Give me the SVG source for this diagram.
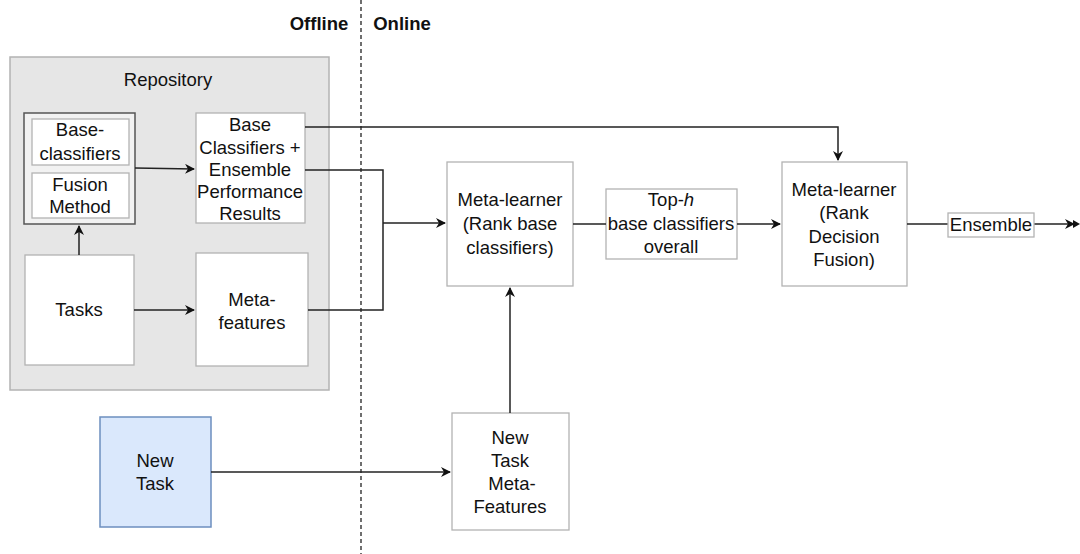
<svg xmlns="http://www.w3.org/2000/svg" width="1080" height="554" viewBox="0 0 1080 554">
  <style>
    text { font-family: "Liberation Sans", Arial, sans-serif; font-size: 18.5px; fill: #111; text-anchor: middle; }
    .hdr { font-weight: bold; }
    .box { fill: #ffffff; stroke: #b3b3b3; stroke-width: 1.3; }
    .edge { fill: none; stroke: #222; stroke-width: 1.5; }
  </style>
  <defs>
    <marker id="arrow" viewBox="0 0 10 10" refX="9" refY="5" markerWidth="10" markerHeight="10" markerUnits="userSpaceOnUse" orient="auto">
      <path d="M0,0 L10,5 L0,10 L3,5 Z" fill="#111"/>
    </marker>
  </defs>

  <rect width="1080" height="554" fill="#ffffff"/>

  <!-- offline / online split -->
  <g id="divider">
    <line x1="361" y1="0" x2="361" y2="554" stroke="#222" stroke-width="1.3" stroke-dasharray="4 3"/>
    <text class="hdr" x="319" y="30">Offline</text>
    <text class="hdr" x="402" y="30">Online</text>
  </g>

  <g id="repository">
    <rect x="10" y="57" width="319" height="333" fill="#e6e6e6" stroke="#b3b3b3" stroke-width="1.5"/>
    <text x="168" y="86">Repository</text>
  </g>

  <g id="classifiers-fusion">
    <rect x="24" y="113" width="111" height="111" fill="#f2f2f2" stroke="#555" stroke-width="1.5"/>
    <rect class="box" x="32" y="119" width="97" height="46"/>
    <text x="80" y="136">Base-</text>
    <text x="80" y="160">classifiers</text>
    <rect class="box" x="32" y="173" width="97" height="45"/>
    <text x="80" y="191">Fusion</text>
    <text x="80" y="213">Method</text>
  </g>

  <g id="performance-results">
    <rect class="box" x="196" y="113" width="109" height="110"/>
    <text x="250" y="131">Base</text>
    <text x="250" y="154">Classifiers +</text>
    <text x="250" y="176">Ensemble</text>
    <text x="250" y="198">Performance</text>
    <text x="250" y="220">Results</text>
  </g>

  <g id="tasks">
    <rect class="box" x="25" y="255" width="109" height="110"/>
    <text x="79" y="316">Tasks</text>
  </g>

  <g id="meta-features">
    <rect class="box" x="196" y="253" width="112" height="113"/>
    <text x="252" y="306">Meta-</text>
    <text x="252" y="329">features</text>
  </g>

  <g id="new-task">
    <rect x="100" y="417" width="111" height="110" fill="#dae8fc" stroke="#6c8ebf" stroke-width="1.5"/>
    <text x="155" y="467">New</text>
    <text x="155" y="490">Task</text>
  </g>

  <g id="new-task-meta-features">
    <rect class="box" x="452" y="413" width="117" height="117"/>
    <text x="510" y="444">New</text>
    <text x="510" y="467">Task</text>
    <text x="512" y="490">Meta-</text>
    <text x="510" y="513">Features</text>
  </g>

  <g id="meta-learner-rank">
    <rect class="box" x="447" y="162" width="126" height="124"/>
    <text x="510" y="206">Meta-learner</text>
    <text x="510" y="230">(Rank base</text>
    <text x="510" y="254">classifiers)</text>
  </g>

  <g id="top-h">
    <rect class="box" x="606" y="189" width="131" height="70"/>
    <text x="671" y="206">Top-<tspan font-style="italic">h</tspan></text>
    <text x="671" y="230">base classifiers</text>
    <text x="671" y="253">overall</text>
  </g>

  <g id="meta-learner-fusion">
    <rect class="box" x="782" y="162" width="125" height="124"/>
    <text x="844" y="196">Meta-learner</text>
    <text x="844" y="219">(Rank</text>
    <text x="844" y="243">Decision</text>
    <text x="844" y="266">Fusion)</text>
  </g>

  <g id="connectors">
    <path class="edge" d="M135,168 L194,169" marker-end="url(#arrow)"/>
    <path class="edge" d="M79,255 L79,226" marker-end="url(#arrow)"/>
    <path class="edge" d="M134,310 L194,310" marker-end="url(#arrow)"/>
    <path class="edge" d="M305,127 L838,127 L838,160" marker-end="url(#arrow)"/>
    <path class="edge" d="M305,170 L383,170 L383,310 L308,310"/>
    <path class="edge" d="M383,223 L445,223" marker-end="url(#arrow)"/>
    <path class="edge" d="M510,413 L510,288" marker-end="url(#arrow)"/>
    <path class="edge" d="M211,472 L450,472" marker-end="url(#arrow)"/>
    <path class="edge" d="M573,224 L606,224"/>
    <path class="edge" d="M737,224 L780,224" marker-end="url(#arrow)"/>
    <path class="edge" d="M907,224 L1074,224" marker-end="url(#arrow)"/>
    <path d="M1073,220 L1080,224 L1073,228 Z" fill="#111"/>
  </g>

  <g id="ensemble">
    <rect class="box" x="948" y="213" width="86" height="24"/>
    <text x="991" y="231">Ensemble</text>
  </g>
</svg>
